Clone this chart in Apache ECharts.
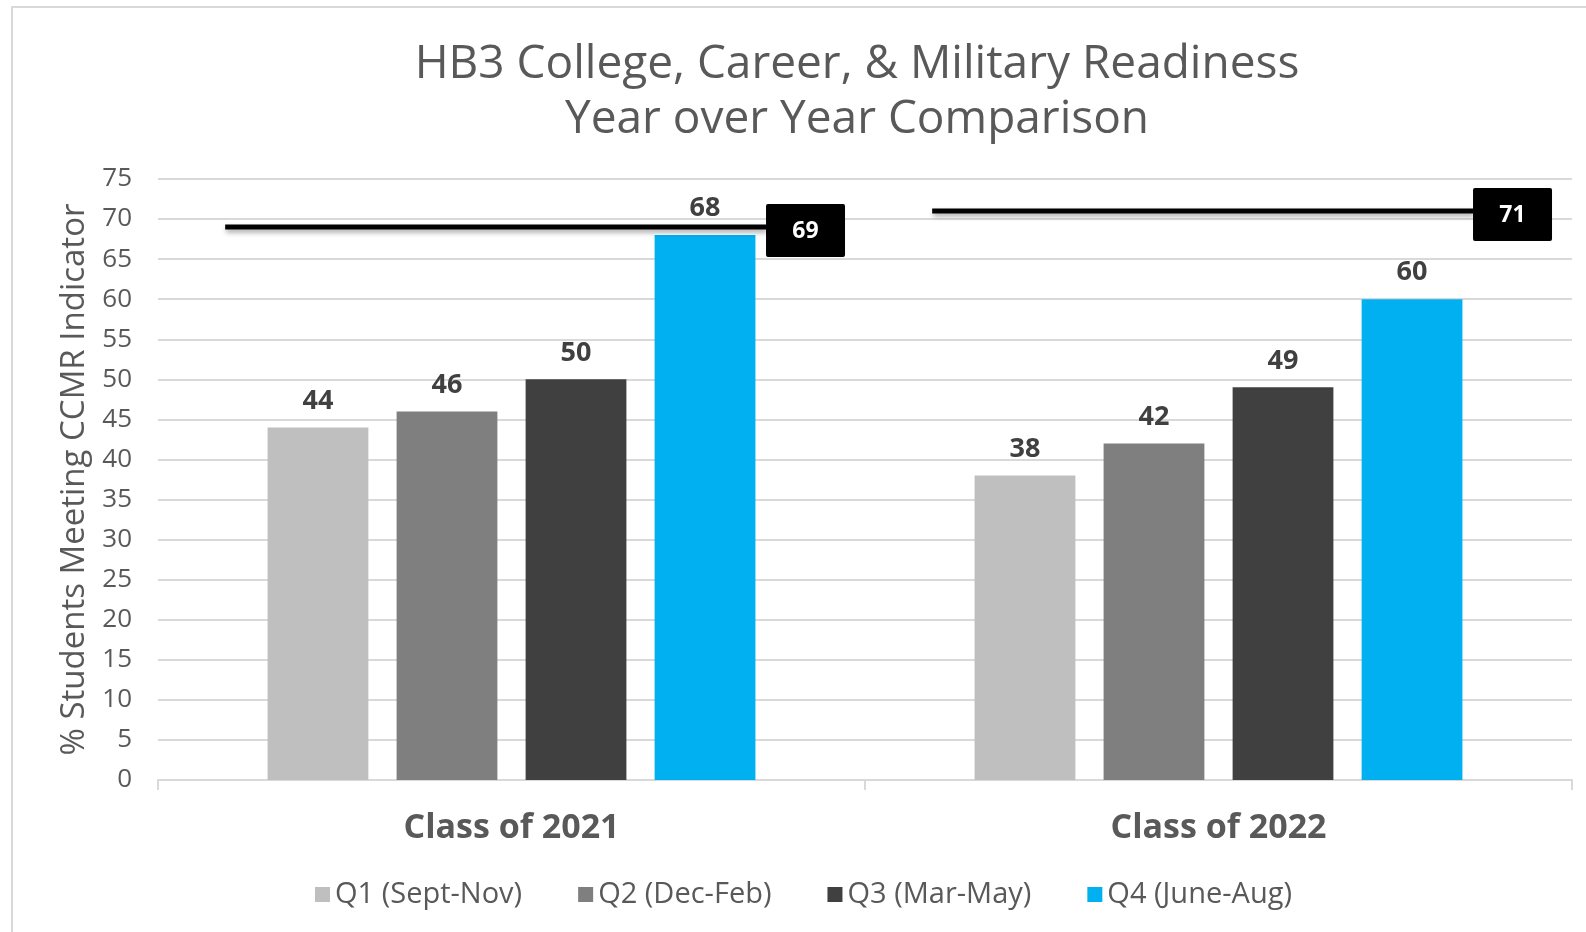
<!DOCTYPE html>
<html>
<head>
<meta charset="utf-8">
<script src="https://cdn.jsdelivr.net/npm/echarts@6/dist/echarts.min.js"></script>
<style>
  html, body { margin: 0; padding: 0; background: #fff; }
  #chart { width: 1586px; height: 932px; }
</style>
</head>
<body>
<div id="chart"></div>
<script>
const categories = ['Class of 2021', 'Class of 2022'];
const q1 = [44, 38];
const q2 = [46, 42];
const q3 = [50, 49];
const q4 = [68, 60];
const targets = [69, 71];
const seriesNames = ['Q1 (Sept-Nov)', 'Q2 (Dec-Feb)', 'Q3 (Mar-May)', 'Q4 (June-Aug)'];
const colors = ['#bfbfbf', '#7f7f7f', '#404040', '#00b0f0'];

const FONT = '"Open Sans", Lato, sans-serif';
const myChart = echarts.init(document.getElementById('chart'));

const barSeries = [q1, q2, q3, q4].map((vals, i) => ({
  name: seriesNames[i],
  type: 'bar',
  data: vals,
  barGap: '28%',
  barCategoryGap: '31%',
  itemStyle: { color: colors[i] },
  label: {
    show: true,
    position: 'top',
    distance: 13,
    fontFamily: FONT,
    fontSize: 27,
    fontWeight: 'bold',
    color: '#404040'
  },
  z: 2
}));

// target line + black value box per class
const targetSeries = {
  type: 'custom',
  name: 'Target',
  data: targets.map((t, i) => [i, t]),
  encode: { x: 0, y: 1 },
  z: 5,
  renderItem: (params, api) => {
    const pt = api.coord([api.value(0), api.value(1)]);
    const bw = api.size([1, 0])[0];
    const x0 = pt[0] - bw * 0.405;
    const x1 = pt[0] + bw * 0.36;
    const boxW = 79, boxH = 53;
    return {
      type: 'group',
      children: [
        {
          type: 'line',
          shape: { x1: x0, y1: pt[1], x2: x1, y2: pt[1] },
          style: {
            stroke: '#000', lineWidth: 5,
            shadowBlur: 5, shadowOffsetY: 3, shadowOffsetX: 1, shadowColor: 'rgba(0,0,0,0.35)'
          }
        },
        {
          type: 'rect',
          shape: { x: x1, y: pt[1] - 23, width: boxW, height: boxH, r: 2 },
          style: { fill: '#000' }
        },
        {
          type: 'text',
          style: {
            x: x1 + boxW / 2, y: pt[1] + 4,
            text: String(api.value(1)),
            fill: '#fff', fontFamily: FONT, fontSize: 23, fontWeight: 'bold',
            align: 'center', verticalAlign: 'middle'
          }
        }
      ]
    };
  }
};

const option = {
  backgroundColor: '#fff',
  animation: false,
  graphic: [{
    type: 'rect',
    shape: { x: 12, y: 7, width: 1600, height: 960 },
    style: { fill: 'none', stroke: '#d9d9d9', lineWidth: 2 },
    silent: true
  }],
  title: {
    text: 'HB3 College, Career, & Military Readiness\nYear over Year Comparison',
    left: 852,
    textAlign: 'center',
    top: 32,
    textStyle: {
      fontFamily: FONT, fontSize: 46, fontWeight: 'normal', color: '#595959', lineHeight: 55
    }
  },
  legend: {
    data: seriesNames,
    bottom: 18,
    left: 310,
    itemWidth: 15,
    itemHeight: 15,
    itemGap: 56,
    icon: 'rect',
    textStyle: { fontFamily: FONT, fontSize: 29, color: '#595959' }
  },
  grid: { left: 158, right: 14, top: 179, bottom: 152 },
  xAxis: {
    type: 'category',
    data: categories,
    axisLine: { lineStyle: { color: '#d9d9d9', width: 2 } },
    axisTick: { show: true, length: 10, lineStyle: { color: '#d9d9d9', width: 2 } },
    axisLabel: {
      fontFamily: FONT, fontSize: 34, fontWeight: 'bold', color: '#595959', margin: 31
    }
  },
  yAxis: {
    type: 'value',
    min: 0,
    max: 75,
    interval: 5,
    name: '% Students Meeting CCMR Indicator',
    nameLocation: 'middle',
    nameRotate: 90,
    nameGap: 67,
    nameTextStyle: { fontFamily: FONT, fontSize: 33, color: '#595959' },
    axisLine: { show: false },
    axisTick: { show: false },
    splitLine: { lineStyle: { color: '#d9d9d9', width: 2 } },
    axisLabel: { fontFamily: FONT, fontSize: 26, color: '#595959', margin: 26 }
  },
  series: [...barSeries, targetSeries]
};

myChart.setOption(option);
window.addEventListener('resize', () => myChart.resize());
</script>
</body>
</html>
